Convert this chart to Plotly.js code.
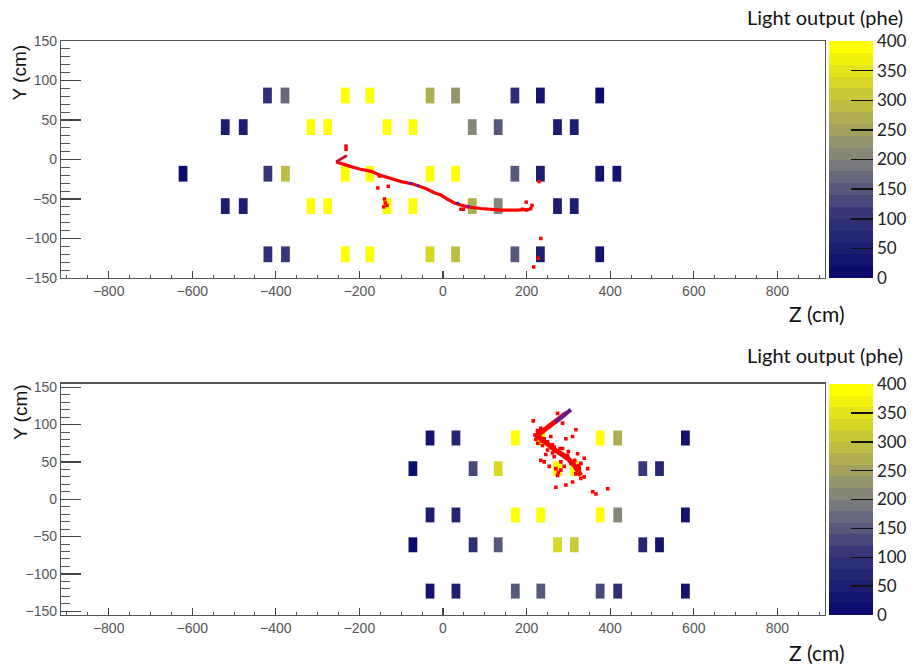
<!DOCTYPE html>
<html><head><meta charset="utf-8">
<script src="https://cdn.plot.ly/plotly-3.0.1.min.js"></script>
<style>html,body{margin:0;padding:0;background:#fff}#chart{width:917px;height:668px}</style>
</head><body><div id="chart"></div>
<script>
// ---------- Top event: light per optical detector ----------
const topRowY = [81, 41, -18, -59, -120];
const topRowZ = [
  [-420, -378, -234, -175, -31, 30, 172, 233, 375],
  [-521, -478, -316, -276, -134, -72, 70, 132, 274, 314],
  [-622, -419, -377, -234, -175, -31, 30, 172, 233, 375, 416],
  [-521, -478, -316, -276, -134, -72, 70, 132, 274, 314],
  [-419, -377, -234, -175, -31, 30, 172, 233, 375]
];
const topRowLight = [
  [80, 160, 400, 400, 270, 230, 80, 30, 10],
  [40, 40, 400, 400, 400, 400, 200, 140, 40, 40],
  [10, 100, 290, 400, 400, 400, 400, 140, 50, 20, 20],
  [40, 40, 400, 400, 400, 400, 260, 200, 40, 40],
  [80, 100, 400, 400, 320, 290, 140, 50, 20]
];
// top event track (red) and stray hits
const topTrackZ = [-256, -240, -220, -200, -172, -150, -130, -100, -72, -40, -21, -5, 10, 27, 45, 59, 90, 139, 179, 210];
const topTrackY = [-3, -6, -9, -12, -15, -20, -23, -28, -31, -37, -42, -45, -50, -55, -58, -60, -62, -64, -64, -63];
const topSpurZ = [-256, -242, -230];
const topSpurY = [-3, 1, 5];
const topHitZ = [-232, -232, -152, -156, -131, -140, -138, -142, -134, 43, 49, 190, 200, 210, 199, 213, 230, 234, 228, 217];
const topHitY = [17, 13, -21, -36, -34, -50, -55, -60, -58, -63, -63, -63, -64, -62, -54, -58, -28, -100, -125, -136];
const topBlueZ = [-77, -60, 35, 60];
const topBlueY = [-30, -33, -55, -59];

// ---------- Bottom event ----------
const botRowY = [82, 41, -21, -61, -123];
const botRowZ = [
  [-31, 31, 173, 234, 376, 418, 580],
  [-72, 72, 132, 274, 314, 478, 518],
  [-31, 31, 173, 234, 376, 418, 580],
  [-72, 72, 132, 274, 314, 478, 518],
  [-31, 31, 173, 234, 376, 418, 580]
];
const botRowLight = [
  [20, 70, 400, 400, 400, 260, 30],
  [10, 130, 320, 400, 400, 110, 60],
  [40, 60, 400, 400, 400, 220, 30],
  [10, 80, 140, 330, 310, 70, 30],
  [20, 50, 140, 150, 130, 90, 20]
];
const botPurpleZ = [306, 288, 268];
const botPurpleY = [120, 112, 103];
const botTrackZ = [294, 270, 248, 227, 222, 232, 245, 258, 270, 285, 300, 312, 322, 330];
const botTrackY = [115, 104, 95, 86, 84, 82, 76, 70, 65, 60, 54, 47, 40, 32];
const botHitZ = [216, 274, 286, 234, 227, 318, 310, 294, 227, 266, 250, 274, 286, 234, 242, 266, 298, 322, 338, 330, 346, 270, 282, 274, 318, 330, 310, 294, 270, 358, 366, 394, 326, 338, 306, 282, 250, 258, 242, 230, 222, 238, 226, 220, 236, 262, 280, 300, 315, 325, 290, 246, 262, 254, 276];
const botHitY = [105, 115, 102, 95, 88, 93, 84, 81, 75, 70, 66, 64, 68, 52, 50, 57, 59, 61, 55, 48, 41, 41, 39, 32, 34, 28, 23, 19, 16, 10, 7, 14, 41, 30, 48, 50, 77, 84, 81, 90, 80, 72, 92, 86, 78, 73, 68, 64, 52, 45, 44, 60, 62, 44, 36];

// ---------- palette ----------
const paletteAnchors = [[0, [12, 12, 110]], [0.25, [52, 52, 120]], [0.5, [128, 128, 128]], [0.75, [192, 192, 64]], [1, [255, 255, 0]]];
function paletteAt(t) {
  for (let i = 1; i < paletteAnchors.length; i++) {
    const [t1, c1] = paletteAnchors[i], [t0, c0] = paletteAnchors[i - 1];
    if (t <= t1) {
      const f = (t - t0) / (t1 - t0);
      return 'rgb(' + c0.map((v, k) => Math.round(v + f * (c1[k] - v))).join(',') + ')';
    }
  }
  return 'rgb(255,255,0)';
}
const nBands = 20;
const colorscale = [];
for (let i = 0; i < nBands; i++) {
  const c = paletteAt(i / (nBands - 1));
  colorscale.push([i / nBands, c]);
  colorscale.push([(i + 1) / nBands, c]);
}

const W = 917, H = 668, PW = W;
const boxW = 21, boxH = 20;

function boxTrace(rowY, rowZ, rowL, xa, ya, cbTopPx, cbLenPx) {
  const x = [], y = [], base = [], col = [], wid = [];
  rowZ.forEach((zs, r) => zs.forEach((z, i) => {
    x.push(z); y.push(boxH); base.push(rowY[r] - boxH / 2); col.push(rowL[r][i]); wid.push(boxW);
  }));
  return {
    type: 'bar', x, y, base, width: wid, xaxis: xa, yaxis: ya, hoverinfo: 'skip',
    marker: {
      color: col, colorscale, cmin: 0, cmax: 400, line: { width: 0 }, showscale: true,
      colorbar: {
        x: 829 / PW, xanchor: 'left', y: 1 - cbTopPx / H, yanchor: 'top',
        lenmode: 'pixels', len: cbLenPx, thicknessmode: 'pixels', thickness: 44,
        xpad: 0, ypad: 0, outlinewidth: 0,
        tickmode: 'linear', tick0: 0, dtick: 50,
        ticks: 'inside', ticklen: 22, tickwidth: 1.5, tickcolor: '#111',
        tickfont: { family: 'Lato, sans-serif', size: 17, color: '#222' }
      }
    }
  };
}

function lineTrace(x, y, color, width, xa, ya) {
  return { type: 'scatter', mode: 'lines', x, y, xaxis: xa, yaxis: ya, hoverinfo: 'skip',
    line: { color, width }, showlegend: false };
}
function hitTrace(x, y, color, size, xa, ya) {
  return { type: 'scatter', mode: 'markers', x, y, xaxis: xa, yaxis: ya, hoverinfo: 'skip',
    marker: { color, size, symbol: 'square', line: { width: 0 } }, showlegend: false };
}

const data = [
  boxTrace(topRowY, topRowZ, topRowLight, 'x', 'y', 41, 237),
  boxTrace(botRowY, botRowZ, botRowLight, 'x2', 'y2', 384, 231),
  lineTrace(topTrackZ, topTrackY, '#ff0000', 3.2, 'x', 'y'),
  lineTrace(topSpurZ, topSpurY, '#c0102a', 2.8, 'x', 'y'),
  hitTrace(topHitZ, topHitY, '#ff0000', 3.5, 'x', 'y'),
  hitTrace(topBlueZ, topBlueY, '#2020ff', 2.5, 'x', 'y'),
  lineTrace(botTrackZ, botTrackY, '#ff0000', 5, 'x2', 'y2'),
  lineTrace(botPurpleZ, botPurpleY, '#6a1a8a', 4, 'x2', 'y2'),
  hitTrace(botHitZ, botHitY, '#ff0000', 3.6, 'x2', 'y2')
];

const tickFont = { family: 'Liberation Sans, Arial, sans-serif', size: 14, color: '#555' };
function xAxis(anchor) {
  return {
    domain: [61 / PW, 825 / PW], anchor, range: [-914, 914], showgrid: false, zeroline: false,
    showline: true, linecolor: '#555', linewidth: 1.2, mirror: true, automargin: false,
    tickmode: 'linear', tick0: 0, dtick: 200, ticks: 'inside', ticklen: 7, tickwidth: 1.2, tickcolor: '#444',
    minor: { dtick: 50, tick0: 0, ticks: 'inside', ticklen: 3.5, tickwidth: 1, tickcolor: '#555' },
    tickfont: tickFont, fixedrange: true
  };
}
function yAxis(topPx, botPx, anchor, r) {
  return {
    domain: [1 - botPx / H, 1 - topPx / H], anchor, range: [-r, r], showgrid: false, zeroline: false,
    showline: true, linecolor: '#555', linewidth: 1.2, mirror: true, automargin: false,
    tickmode: 'linear', tick0: 0, dtick: 50, ticks: 'inside', ticklen: 20, tickwidth: 1.2, tickcolor: '#444',
    minor: { dtick: 10, tick0: 0, ticks: 'inside', ticklen: 9, tickwidth: 1, tickcolor: '#555' },
    tickfont: tickFont, fixedrange: true
  };
}

const titleFont = { family: 'Lato, sans-serif', size: 20, color: '#111' };
const yTitleFont = { family: 'Liberation Sans, Arial, sans-serif', size: 19, color: '#111' };
const annotations = [
  { text: 'Light output (phe)', x: 905 / PW, y: 1 - 17 / H, xref: 'paper', yref: 'paper', xanchor: 'right', yanchor: 'middle', showarrow: false, font: titleFont },
  { text: 'Light output (phe)', x: 905 / PW, y: 1 - 355 / H, xref: 'paper', yref: 'paper', xanchor: 'right', yanchor: 'middle', showarrow: false, font: titleFont },
  { text: 'Z (cm)', x: 847 / PW, y: 1 - 313 / H, xref: 'paper', yref: 'paper', xanchor: 'right', yanchor: 'middle', showarrow: false, font: { ...titleFont, size: 21 } },
  { text: 'Z (cm)', x: 847 / PW, y: 1 - 652 / H, xref: 'paper', yref: 'paper', xanchor: 'right', yanchor: 'middle', showarrow: false, font: { ...titleFont, size: 21 } },
  { text: 'Y (cm)', x: 19.5 / PW, y: 1 - 43 / H, xref: 'paper', yref: 'paper', xanchor: 'center', yanchor: 'top', textangle: -90, showarrow: false, font: yTitleFont },
  { text: 'Y (cm)', x: 20 / PW, y: 1 - 382 / H, xref: 'paper', yref: 'paper', xanchor: 'center', yanchor: 'top', textangle: -90, showarrow: false, font: yTitleFont }
];

const layout = {
  width: W, height: H, margin: { l: 0, r: 0, t: 0, b: 0, autoexpand: false },
  paper_bgcolor: '#fff', plot_bgcolor: '#fff', showlegend: false, barmode: 'overlay',
  xaxis: xAxis('y'), yaxis: yAxis(41, 278, 'x', 150),
  xaxis2: xAxis('y2'), yaxis2: yAxis(383.5, 615, 'x2', 155),
  annotations
};

Plotly.newPlot('chart', data, layout, { displayModeBar: false, staticPlot: true });
</script>
</body></html>
